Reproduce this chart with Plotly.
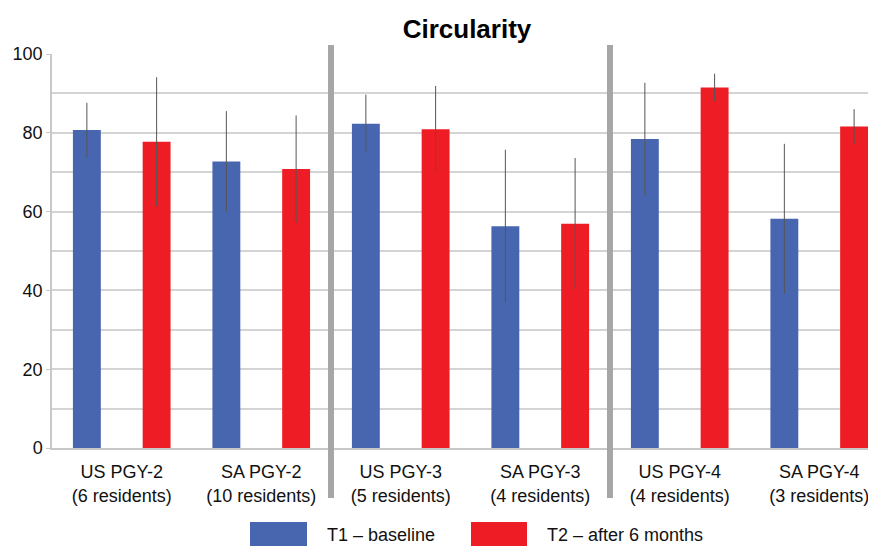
import plotly.graph_objects as go

categories = ["US PGY-2<br>(6 residents)", "SA PGY-2<br>(10 residents)",
              "US PGY-3<br>(5 residents)", "SA PGY-3<br>(4 residents)",
              "US PGY-4<br>(4 residents)", "SA PGY-4<br>(3 residents)"]
series_names = ["T1 \u2013 baseline", "T2 \u2013 after 6 months"]
t1_values = [80.7, 72.7, 82.3, 56.3, 78.4, 58.2]
t1_sd = [6.9, 12.8, 7.4, 19.4, 14.3, 19.0]
t2_values = [77.7, 70.8, 80.9, 56.9, 91.5, 81.6]
t2_sd = [16.4, 13.6, 11.0, 16.7, 3.5, 4.4]
y_ticks = [0, 20, 40, 60, 80, 100]
divider_positions = [1.5, 3.5]

BLUE = "#4866b0"
RED = "#ee1d25"
FONT = "Liberation Sans, Arial, sans-serif"

# page offset (body margin) compensation
OFF = 8

fig = go.Figure()
for name, vals, sd, col in [(series_names[0], t1_values, t1_sd, BLUE),
                            (series_names[1], t2_values, t2_sd, RED)]:
    fig.add_trace(go.Bar(
        x=categories, y=vals, name=name,
        marker=dict(color=col, line=dict(width=0)),
        error_y=dict(type="data", array=sd, visible=True, width=0,
                     thickness=1, color="#555555"),
        showlegend=False,
    ))

# plot area in window pixels: x 52..876, y 54..448
L, R, T, B = 52, 876, 54, 448
W = R - L
H = B - T

def px(xpix):
    return (xpix - L) / W

def py(ypix):
    return (B - ypix) / H

# dividers between groups
for xp in divider_positions:
    fig.add_shape(type="line", xref="x", yref="paper", x0=xp, x1=xp,
                  y0=py(498), y1=py(45), line=dict(color="#a6a6a6", width=6),
                  layer="above")

# manual legend
legend_items = [(series_names[0], BLUE, 250, 307, 325),
                (series_names[1], RED, 471, 527, 545)]
for name, col, sx0, sx1, tx in legend_items:
    fig.add_shape(type="rect", xref="paper", yref="paper",
                  x0=px(sx0), x1=px(sx1), y0=py(522), y1=py(560),
                  fillcolor=col, line=dict(width=0))
    fig.add_annotation(xref="paper", yref="paper", x=px(tx), y=py(535),
                       text=name, showarrow=False, xanchor="left",
                       yanchor="middle", font=dict(size=18, color="#111111", family=FONT))

fig.update_layout(
    width=876, height=546,
    margin=dict(l=L - OFF, r=OFF, t=T - OFF, b=546 - (B - OFF)),
    paper_bgcolor="white", plot_bgcolor="white",
    font=dict(family=FONT, color="#111111", size=18),
    title=dict(text="<b>Circularity</b>", x=(467 - OFF) / 876, xanchor="center",
               y=1 - (29 - OFF) / 546, yanchor="middle",
               font=dict(size=26, color="black", family=FONT)),
    barmode="group", bargap=0.0, bargroupgap=0.6,
    showlegend=False,
)
fig.update_xaxes(
    range=[-0.5, 5.407], showline=True, linecolor="#c8c8c8", linewidth=1.5,
    showgrid=False, ticks="", tickfont=dict(size=18, color="#111111"),
    ticklabelstandoff=7, fixedrange=True, automargin=False,
)
fig.update_yaxes(
    range=[0, 100], tickvals=y_ticks, showline=True, linecolor="#c8c8c8",
    linewidth=1.5, showgrid=True, gridcolor="#d4d4d4", gridwidth=1.5,
    minor=dict(dtick=10, showgrid=True, gridcolor="#d4d4d4", gridwidth=1.5),
    zeroline=False, ticks="outside", ticklen=4, tickcolor="#c8c8c8",
    tickfont=dict(size=18, color="#111111"), ticklabelstandoff=0,
    fixedrange=True, automargin=False,
)

fig.write_html("out.html")
